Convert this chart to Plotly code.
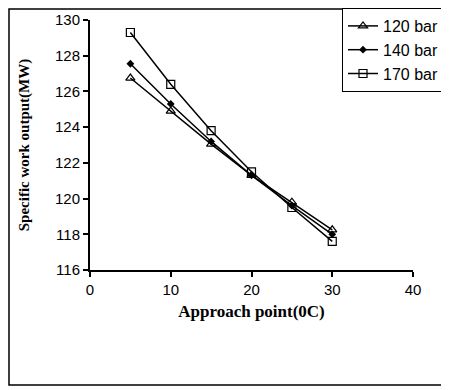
import plotly.graph_objects as go

approach = [5, 10, 15, 20, 25, 30]
series_names = ["120 bar", "140 bar", "170 bar"]
w120 = [126.75, 124.9, 123.05, 121.3, 119.8, 118.25]
w140 = [127.55, 125.3, 123.2, 121.3, 119.6, 118.0]
w170 = [129.3, 126.4, 123.8, 121.5, 119.5, 117.6]
x_ticks = [0, 10, 20, 30, 40]
y_ticks = [116, 118, 120, 122, 124, 126, 128, 130]

markers = [
    dict(symbol="triangle-up-open", size=8, color="black", line=dict(width=1.2, color="black")),
    dict(symbol="diamond", size=6, color="black"),
    dict(symbol="square-open", size=8, color="black", line=dict(width=1.2, color="black")),
]

fig = go.Figure()
for name, vals, mk in zip(series_names, [w120, w140, w170], markers):
    fig.add_trace(go.Scatter(x=approach, y=vals, mode="lines+markers", name=name,
                             line=dict(color="black", width=1.5), marker=mk))

# page body adds an 8px offset; figure sized to fit the 449x390 window
OFF = 8
W, H = 449 - OFF, 390 - OFF
L, T = 90 - OFF, 20 - OFF
pw, ph = 323, 250
R, B = W - L - pw, H - T - ph

def px_x(p):
    return (p - OFF - L) / pw

def px_y(p):
    return (T + ph - (p - OFF)) / ph

fig.add_shape(type="rect", xref="paper", yref="paper",
              x0=px_x(OFF + 1), x1=px_x(445), y0=px_y(385), y1=px_y(OFF + 1),
              line=dict(color="black", width=1.5), layer="below")

fig.update_layout(
    width=W, height=H,
    margin=dict(l=L, r=R, t=T, b=B, autoexpand=False),
    paper_bgcolor="white", plot_bgcolor="white",
    font=dict(family="Arial, Liberation Sans", color="black", size=15),
    legend=dict(xref="container", yref="container",
                x=(444 - OFF) / W, y=1.0, xanchor="right", yanchor="top",
                bordercolor="black", borderwidth=1, bgcolor="white",
                font=dict(size=16, family="Arial, Liberation Sans"),
                tracegroupgap=0, itemwidth=30),
    showlegend=True,
)
fig.update_xaxes(range=[0, 40], tickvals=x_ticks, showline=True, linecolor="black", linewidth=2,
                 ticks="outside", ticklen=5, tickwidth=2, tickcolor="black", showgrid=False,
                 zeroline=False, automargin=False,
                 title=dict(text="<b>Approach point(0C)</b>",
                            font=dict(family="Times New Roman, Liberation Serif", size=17), standoff=8))
fig.update_yaxes(range=[116, 130], tickvals=y_ticks, showline=True, linecolor="black", linewidth=2,
                 ticks="outside", ticklen=5, tickwidth=2, tickcolor="black", showgrid=False,
                 zeroline=False, automargin=False,
                 title=dict(text="<b>Specific work output(MW)</b>",
                            font=dict(family="Times New Roman, Liberation Serif", size=15), standoff=22))

fig.write_html("out.html")
